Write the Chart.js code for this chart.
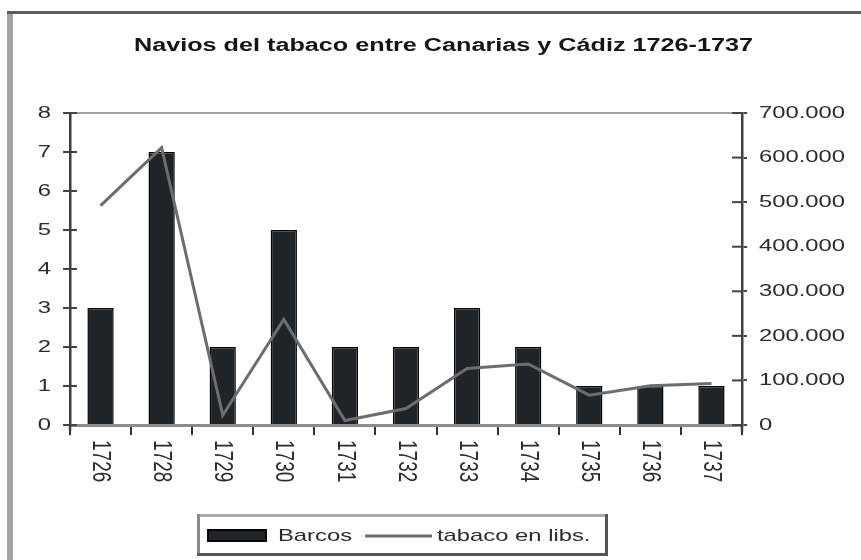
<!DOCTYPE html>
<html>
<head>
<meta charset="utf-8">
<script src="https://cdn.jsdelivr.net/npm/chart.js@4.4.0/dist/chart.umd.min.js"></script>
<style>
html,body{margin:0;padding:0;background:#fff}
#wrap{width:861px;height:560px;position:relative}
</style>
</head>
<body>
<div id="wrap"><canvas id="c" width="861" height="560"></canvas></div>
<script>
const titleText = 'Navios del tabaco entre Canarias y Cádiz 1726-1737';
const years = ['1726','1728','1729','1730','1731','1732','1733','1734','1735','1736','1737'];
const barcos = [3, 7, 2, 5, 2, 2, 3, 2, 1, 1, 1];
const tabaco = [492000, 622000, 22000, 237000, 10000, 37000, 127000, 137000, 67000, 88000, 93000];
const leftTickLabels = ['0','1','2','3','4','5','6','7','8'];
const rightTickLabels = ['0','100.000','200.000','300.000','400.000','500.000','600.000','700.000'];
const seriesNames = ['Barcos', 'tabaco en libs.'];

const FONT = '"Liberation Sans", Arial, sans-serif';
const SX = 1.4;           // horizontal widening of the glyphs, as in the reference
const TEXT = '#2b2b2b';

function wideText(ctx, text, x, y, align, font, sx) {
  ctx.save();
  ctx.font = font;
  const w = ctx.measureText(text).width * sx;
  const left = align === 'right' ? x - w : (align === 'center' ? x - w / 2 : x);
  ctx.translate(left, y);
  ctx.scale(sx, 1);
  ctx.textAlign = 'left';
  ctx.textBaseline = 'middle';
  ctx.fillText(text, 0, 0);
  ctx.restore();
}

const decor = {
  id: 'decor',
  beforeDraw(chart) {
    const ctx = chart.ctx;
    ctx.save();
    ctx.fillStyle = '#fff';
    ctx.fillRect(0, 0, chart.width, chart.height);
    ctx.fillStyle = '#a3a3a3';
    ctx.fillRect(7, 11, 6, chart.height - 11);
    ctx.fillStyle = '#5c5c5c';
    ctx.fillRect(7, 11, chart.width - 7, 3);
    ctx.restore();
  },
  afterDraw(chart) {
    const ctx = chart.ctx;
    const xs = chart.scales.x, ys = chart.scales.y, y1 = chart.scales.y1;
    const area = chart.chartArea;
    ctx.save();
    // top frame of plot area
    ctx.fillStyle = '#a3a3a3';
    ctx.fillRect(area.left, area.top - 1, area.right - area.left, 2);
    // axis extensions below baseline
    ctx.fillStyle = '#3c3c3c';
    ctx.fillRect(area.left - 1.25, area.bottom, 2.5, 6);
    ctx.fillRect(area.right - 1.25, area.bottom, 2.5, 7);
    // inner parts of crossing ticks
    ctx.fillStyle = '#444';
    ys.ticks.forEach(t => {
      const py = ys.getPixelForValue(t.value);
      ctx.fillRect(area.left, py - 1, 7, 2);
    });
    y1.ticks.forEach(t => {
      const py = y1.getPixelForValue(t.value);
      ctx.fillRect(area.right - 10, py - 1, 10, 2);
    });

    // title
    ctx.fillStyle = '#151515';
    wideText(ctx, titleText, 443.5, 46, 'center', 'bold 18px ' + FONT, SX);

    // y tick labels
    ctx.fillStyle = TEXT;
    ys.ticks.forEach((t, i) => {
      const py = ys.getPixelForValue(t.value);
      wideText(ctx, leftTickLabels[i], area.left - 19, py, 'right', '17px ' + FONT, SX);
    });
    y1.ticks.forEach((t, i) => {
      const py = y1.getPixelForValue(t.value);
      wideText(ctx, rightTickLabels[i], area.right + 17, py, 'left', '17px ' + FONT, SX);
    });

    // x labels, rotated clockwise, widened along the horizontal of the picture
    ctx.font = '19px ' + FONT;
    years.forEach((lab, i) => {
      const px = xs.getPixelForValue(i);
      ctx.save();
      ctx.translate(px, area.bottom + 15);
      ctx.rotate(Math.PI / 2);
      ctx.scale(1, SX);
      ctx.textAlign = 'left';
      ctx.textBaseline = 'middle';
      ctx.fillText(lab, 0, 0);
      ctx.restore();
    });

    // legend
    const lx = 197, ly = 514, lw = 411, lh = 42;
    ctx.fillStyle = '#fff';
    ctx.fillRect(lx, ly, lw, lh);
    ctx.fillStyle = '#a8a8a8';
    ctx.fillRect(lx, ly, lw, 3);
    ctx.fillStyle = '#8a8a8a';
    ctx.fillRect(lx, ly, 3, lh);
    ctx.fillStyle = '#555';
    ctx.fillRect(lx, ly + lh - 3, lw, 3);
    ctx.fillRect(lx + lw - 3, ly, 3, lh);

    const ds = chart.data.datasets;
    ctx.fillStyle = '#050505';
    ctx.fillRect(207, 529, 60, 13);
    ctx.fillStyle = ds[0].backgroundColor;
    ctx.fillRect(209, 531, 56, 9);
    ctx.fillStyle = TEXT;
    wideText(ctx, ds[0].label, 278, 536, 'left', '17px ' + FONT, SX);
    ctx.strokeStyle = ds[1].borderColor;
    ctx.lineWidth = 3;
    ctx.beginPath();
    ctx.moveTo(365, 536);
    ctx.lineTo(432, 536);
    ctx.stroke();
    ctx.fillStyle = TEXT;
    wideText(ctx, ds[1].label, 437, 536, 'left', '17px ' + FONT, SX);
    ctx.restore();
  }
};

new Chart(document.getElementById('c').getContext('2d'), {
  type: 'bar',
  data: {
    labels: years,
    datasets: [
      {
        type: 'bar',
        label: seriesNames[0],
        data: barcos,
        yAxisID: 'y',
        backgroundColor: '#212427',
        borderColor: '#050505',
        borderWidth: 1.5,
        barPercentage: 0.43,
        categoryPercentage: 1,
        order: 1
      },
      {
        type: 'line',
        label: seriesNames[1],
        data: tabaco,
        yAxisID: 'y1',
        borderColor: '#6b6d6f',
        borderWidth: 3,
        pointRadius: 0,
        tension: 0,
        fill: false,
        order: 0
      }
    ]
  },
  options: {
    responsive: false,
    animation: false,
    devicePixelRatio: 1,
    layout: { padding: { top: 113, bottom: 75, left: 0, right: 0 } },
    plugins: {
      legend: { display: false },
      title: { display: false },
      tooltip: { enabled: false }
    },
    scales: {
      x: {
        ticks: { display: false },
        grid: { drawOnChartArea: false, drawTicks: true, tickLength: 10, color: '#333', lineWidth: 2, offset: true },
        border: { display: true, color: '#8c8c8c', width: 3 },
        afterFit(s) { s.height = 60; }
      },
      y: {
        position: 'left',
        min: 0, max: 8,
        ticks: { display: false, stepSize: 1 },
        grid: { drawOnChartArea: false, tickLength: 7, color: '#444', lineWidth: 2 },
        border: { color: '#3c3c3c', width: 2.5 },
        afterFit(s) { s.width = 70; }
      },
      y1: {
        position: 'right',
        min: 0, max: 700000,
        ticks: { display: false, stepSize: 100000 },
        grid: { drawOnChartArea: false, tickLength: 5, color: '#444', lineWidth: 2 },
        border: { color: '#404040', width: 2.5 },
        afterFit(s) { s.width = 119; }
      }
    }
  },
  plugins: [decor]
});
</script>
</body>
</html>
